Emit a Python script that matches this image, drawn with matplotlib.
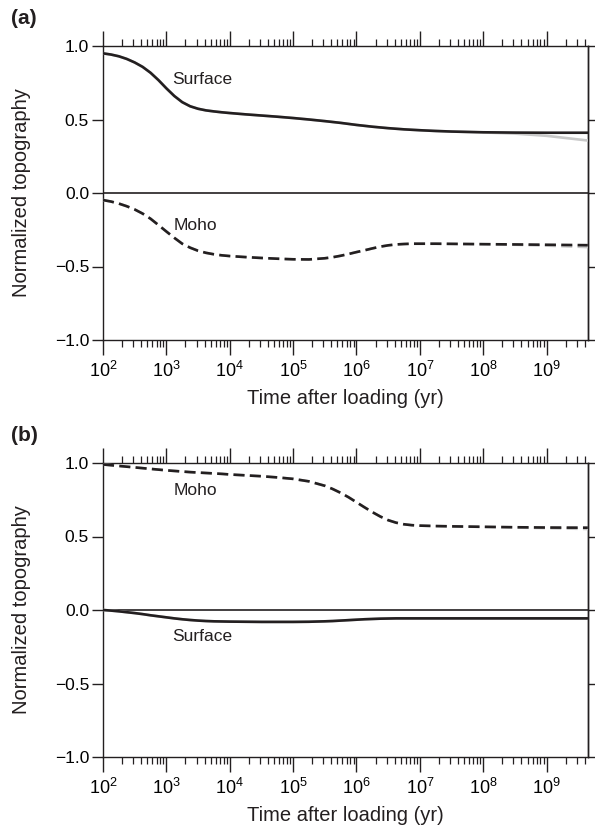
import numpy as np
import matplotlib
matplotlib.use("Agg")
import matplotlib.pyplot as plt
from matplotlib.ticker import LogLocator, NullFormatter, FixedLocator

plt.rcParams['font.family'] = ['Liberation Sans', 'DejaVu Sans']
plt.rcParams['mathtext.fontset'] = 'custom'
plt.rcParams['mathtext.rm'] = 'Liberation Sans'
plt.rcParams['mathtext.it'] = 'Liberation Sans:italic'
plt.rcParams['mathtext.bf'] = 'Liberation Sans:bold'

# ---- data ----
log_time = [2.0, 2.125, 2.25, 2.375, 2.5, 2.625, 2.75, 2.875, 3.0, 3.125, 3.25, 3.375,
            3.5, 3.625, 3.75, 3.875, 4.0, 4.25, 4.5, 4.75, 5.0, 5.25, 5.5, 5.625,
            5.75, 5.875, 6.0, 6.125, 6.25, 6.375, 6.5, 6.625, 6.75, 6.875, 7.0, 7.25,
            7.5, 8.0, 8.5, 9.0, 9.65]

a_surface = [0.950, 0.942, 0.930, 0.912, 0.888, 0.858, 0.818, 0.768, 0.712, 0.660, 0.618, 0.590,
             0.573, 0.562, 0.555, 0.549, 0.544, 0.535, 0.527, 0.519, 0.510, 0.500, 0.489, 0.483,
             0.477, 0.470, 0.463, 0.457, 0.451, 0.446, 0.441, 0.437, 0.433, 0.430, 0.427, 0.422,
             0.418, 0.413, 0.411, 0.410, 0.410]
a_surface_gray = [0.950, 0.942, 0.930, 0.912, 0.888, 0.858, 0.818, 0.768, 0.712, 0.660, 0.618, 0.590,
                  0.573, 0.562, 0.555, 0.549, 0.544, 0.535, 0.527, 0.519, 0.510, 0.500, 0.489, 0.483,
                  0.477, 0.470, 0.463, 0.457, 0.451, 0.446, 0.441, 0.437, 0.433, 0.430, 0.427, 0.422,
                  0.418, 0.412, 0.404, 0.389, 0.357]
a_moho = [-0.048, -0.058, -0.072, -0.090, -0.112, -0.140, -0.175, -0.218, -0.262, -0.305, -0.345, -0.372,
          -0.393, -0.407, -0.417, -0.424, -0.429, -0.436, -0.442, -0.447, -0.451, -0.452, -0.444, -0.437,
          -0.427, -0.415, -0.402, -0.390, -0.377, -0.365, -0.356, -0.350, -0.347, -0.345, -0.345, -0.345,
          -0.346, -0.348, -0.350, -0.352, -0.355]
a_moho_gray = [-0.048, -0.058, -0.072, -0.090, -0.112, -0.140, -0.175, -0.218, -0.262, -0.305, -0.345, -0.372,
               -0.393, -0.407, -0.417, -0.424, -0.429, -0.436, -0.442, -0.447, -0.451, -0.452, -0.444, -0.437,
               -0.427, -0.415, -0.402, -0.390, -0.377, -0.365, -0.356, -0.350, -0.347, -0.345, -0.345, -0.345,
               -0.346, -0.349, -0.352, -0.358, -0.368]

b_moho = [0.990, 0.985, 0.980, 0.975, 0.970, 0.965, 0.960, 0.955, 0.950, 0.946, 0.942, 0.938,
          0.935, 0.932, 0.929, 0.926, 0.922, 0.916, 0.910, 0.902, 0.892, 0.875, 0.845, 0.823,
          0.797, 0.767, 0.733, 0.699, 0.666, 0.636, 0.611, 0.594, 0.583, 0.577, 0.574, 0.571,
          0.569, 0.566, 0.563, 0.561, 0.560]
b_moho_gray = [0.990, 0.985, 0.980, 0.975, 0.970, 0.965, 0.960, 0.955, 0.950, 0.946, 0.942, 0.938,
               0.935, 0.932, 0.929, 0.926, 0.922, 0.916, 0.910, 0.902, 0.892, 0.875, 0.845, 0.823,
               0.797, 0.767, 0.733, 0.699, 0.666, 0.636, 0.611, 0.594, 0.583, 0.577, 0.574, 0.571,
               0.569, 0.565, 0.561, 0.557, 0.551]
b_surface = [0.000, -0.004, -0.009, -0.015, -0.021, -0.028, -0.036, -0.043, -0.050, -0.057, -0.063, -0.068,
             -0.072, -0.075, -0.077, -0.078, -0.079, -0.080, -0.081, -0.081, -0.081, -0.080, -0.077, -0.075,
             -0.072, -0.069, -0.066, -0.063, -0.061, -0.059, -0.058, -0.057, -0.057, -0.057, -0.057, -0.057,
             -0.057, -0.057, -0.057, -0.057, -0.057]

y_ticks = [-1.0, -0.5, 0.0, 0.5, 1.0]
y_ticklabels = ['\u22121.0', '\u22120.5', '0.0', '0.5', '1.0']
x_min, x_max = 1e2, 4.5e9

panels = [
    dict(label='(a)', solid=a_surface, solid_gray=a_surface_gray, dashed=a_moho, dashed_gray=a_moho_gray,
         solid_txt=('Surface', 3.7e3, 0.77), dashed_txt=('Moho', 2.9e3, -0.22)),
    dict(label='(b)', solid=b_surface, solid_gray=b_surface, dashed=b_moho, dashed_gray=b_moho_gray,
         solid_txt=('Surface', 3.7e3, -0.18), dashed_txt=('Moho', 2.9e3, 0.815)),
]

fig = plt.figure(figsize=(5.95, 8.36), dpi=100)
W, H = 595, 836
axes_px = [(103, 46, 588, 340), (103, 463, 588, 757)]

t = [10 ** v for v in log_time]
dash = (0, (4.2, 2.0))
ink = '#231f20'
lw_curve = 1.9

for (x0, y0, x1, y1), p in zip(axes_px, panels):
    ax = fig.add_axes([x0 / W, 1 - y1 / H, (x1 - x0) / W, (y1 - y0) / H])
    ax.set_xscale('log')
    ax.set_xlim(x_min, x_max)
    ax.set_ylim(-1, 1)
    ax.axhline(0, color=ink, lw=1.2, zorder=2)
    ax.plot(t, p['solid_gray'], color='#c8c8c8', lw=lw_curve, zorder=3)
    ax.plot(t, p['dashed_gray'], color='#c8c8c8', lw=lw_curve, ls=dash, zorder=3)
    ax.plot(t, p['solid'], color=ink, lw=lw_curve, zorder=4)
    ax.plot(t, p['dashed'], color=ink, lw=lw_curve, ls=dash, zorder=4)
    for txt, xx, yy in (p['solid_txt'], p['dashed_txt']):
        ax.text(xx, yy, txt, fontsize=12.5, ha='center', va='center', color=ink)

    for s in ax.spines.values():
        s.set_linewidth(1.0)
        s.set_color(ink)

    ax.xaxis.set_major_locator(LogLocator(base=10, numticks=20))
    ax.xaxis.set_minor_locator(LogLocator(base=10, subs=np.arange(2, 10), numticks=200))
    ax.xaxis.set_minor_formatter(NullFormatter())
    ax.yaxis.set_major_locator(FixedLocator(y_ticks))
    ax.set_yticklabels(y_ticklabels)

    ax.tick_params(axis='x', which='major', direction='out', length=11, width=1.0,
                   top=True, bottom=True, labeltop=False, labelsize=13, pad=4, color=ink)
    ax.tick_params(axis='x', which='minor', direction='out', length=5, width=0.9,
                   top=True, bottom=True, color=ink)
    ax.tick_params(axis='y', which='major', direction='out', length=8, width=1.0,
                   left=True, right=False, labelsize=12.5, pad=2, color=ink)
    sec = ax.secondary_yaxis('right')
    sec.yaxis.set_major_locator(FixedLocator(y_ticks))
    sec.tick_params(direction='out', length=5, width=1.0, labelright=False, color=ink)
    sec.spines['right'].set_linewidth(1.0)

    ax.set_ylabel('Normalized topography', fontsize=14.5, color=ink)
    ax.yaxis.set_label_coords(-0.148, 0.5)
    ax.set_xlabel('Time after loading (yr)', fontsize=14.5, color=ink, labelpad=6)

    fig.text(11 / W, 1 - (y0 - 27) / H, p['label'], fontsize=15, fontweight='bold',
             ha='left', va='center', color=ink)

fig.savefig('out.png', dpi=100)
